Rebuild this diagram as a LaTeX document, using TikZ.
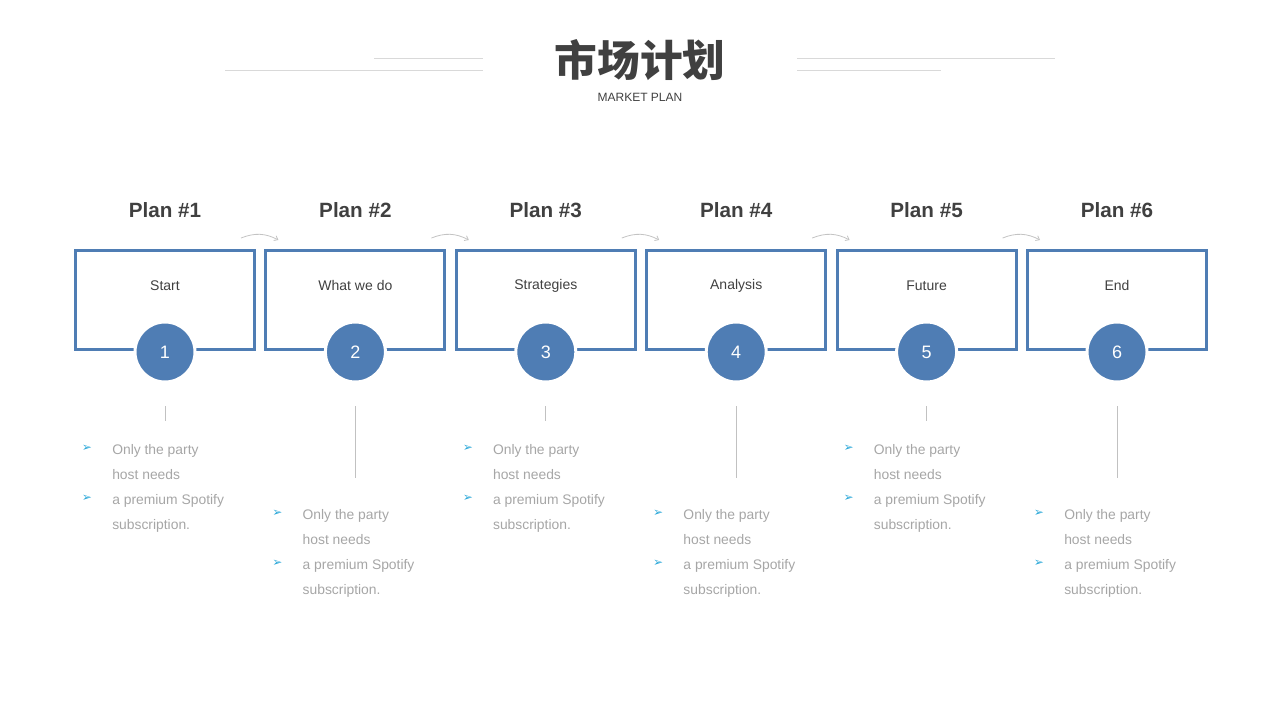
\documentclass[tikz,border=0pt]{standalone}
\usepackage{fontspec}
\setmainfont{Liberation Sans}
\newfontfamily\cjk{Noto Sans CJK SC}
\newfontfamily\symfont{DejaVu Sans}
\usepackage{tikz}
\usetikzlibrary{arrows.meta}
\usepackage{xcolor}
\definecolor{planblue}{HTML}{4F7DB4}
\definecolor{textgray}{HTML}{404040}
\definecolor{bulletgray}{HTML}{A6A6A6}
\definecolor{bulletblue}{HTML}{2AA7D8}
\definecolor{linegray}{HTML}{D9D9D9}
\tikzset{
  planbox/.style={draw=planblue, line width=2.25pt, minimum width=134.25pt, minimum height=74.6pt, inner sep=0pt},
  numcircle/.style={circle, fill=planblue, draw=white, line width=2.25pt, minimum size=45pt, inner sep=0pt,
    text=white, font=\fontsize{13.5}{13.5}\selectfont},
  plantitle/.style={text=textgray, font=\bfseries\fontsize{15.5}{15.5}\selectfont},
  boxtext/.style={text=textgray, font=\fontsize{10.5}{10.5}\selectfont},
  bullettext/.style={text=bulletgray, align=left, inner sep=0pt, anchor=north west,
    font=\fontsize{10.4}{18.75}\selectfont},
  bulletmark/.style={text=bulletblue, inner sep=0pt, font=\symfont\fontsize{9}{9}\selectfont},
  stemline/.style={draw=bulletgray!70, line width=0.6pt},
  headline/.style={draw=linegray, line width=0.6pt},
  curvearrow/.style={draw=linegray!90!black, line width=0.6pt, -{Straight Barb[length=2.5pt,width=4pt]}}
}
\begin{document}
\begin{tikzpicture}[x=0.75pt, y=-0.75pt]
    \useasboundingbox (0,0) rectangle (1280,720);

    % Titulo
    \node[text=textgray, font=\cjk\bfseries\fontsize{32}{32}\selectfont] (title) at (640,60) {市场计划};
    \node[text=textgray, font=\fontsize{9}{9}\selectfont] (subtitle) at (640,97) {MARKET PLAN};

    % Linhas do titulo
    \draw[headline] (225,70) -- (483,70);
    \draw[headline] (374,58) -- (483,58);
    \draw[headline] (797,58) -- (1055,58);
    \draw[headline] (797,70) -- (941,70);

    % Etapas do plano
    \foreach \i/\lbl in {1/Start, 2/What we do, 3/Strategies, 4/Analysis, 5/Future, 6/End} {
        \pgfmathsetmacro{\cx}{165+190.4*(\i-1)}
        \pgfmathsetmacro{\dy}{mod(\i-1,2)*65}
        \pgfmathsetmacro{\stem}{15+mod(\i-1,2)*57}
        \node[plantitle] (plan\i) at (\cx,210) {Plan \#\i};
        \node[planbox] (box\i) at (\cx,300.25) {};
        \node[boxtext] (label\i) at (\cx,285.5) {\lbl};
        \node[numcircle] (num\i) at (\cx,352) {\i};
        \coordinate (stemtop\i) at (\cx,406);
        \draw[stemline] (stemtop\i) -- ++(0,\stem);
        % Lista de itens
        \node[bulletmark] (markA\i) at (\cx-78,448+\dy) {➢};
        \node[bulletmark] (markB\i) at (\cx-78,498+\dy) {➢};
        \node[bullettext] (list\i) at (\cx-53,444+\dy)
            {Only the party\\host needs\\a premium Spotify\\subscription.};
    }

    % Setas curvas entre as etapas
    \foreach \i/\j in {1/2, 2/3, 3/4, 4/5, 5/6} {
        \draw[curvearrow] ([shift={(-15,-11)}]box\i.north east) to[bend left=25] ([shift={(14,-9)}]box\j.north west);
    }
\end{tikzpicture}
\end{document}
